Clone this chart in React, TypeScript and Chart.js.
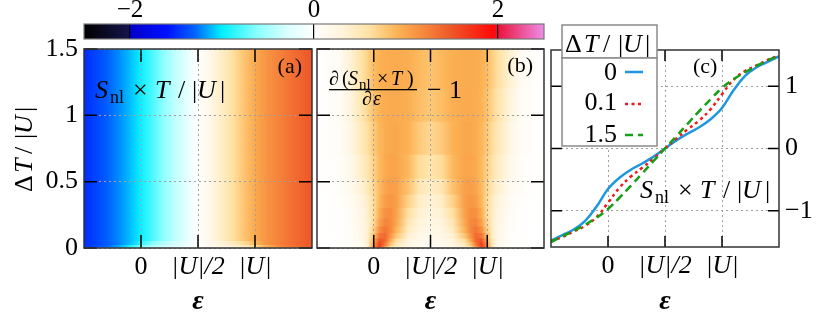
import React, { useEffect, useRef } from "react";
import { Chart, registerables } from "chart.js";

Chart.register(...registerables);

const SERIF = "'Liberation Serif', 'Times New Roman', serif";

// ---------------- data ----------------
// energy grid (units of |U|)
const epsGrid = [-0.5, -0.4, -0.3, -0.2, -0.1, 0, 0.1, 0.2, 0.3, 0.4, 0.5, 0.6, 0.7, 0.8, 0.9, 1.0, 1.1, 1.2, 1.3, 1.4, 1.5];
// S_nl x T / |U| for three temperature differences
const sNl_dT0 = [-1.48, -1.39, -1.3, -1.16, -0.93, -0.65, -0.47, -0.34, -0.24, -0.13, 0, 0.13, 0.24, 0.34, 0.47, 0.65, 0.93, 1.16, 1.3, 1.39, 1.48];
const sNl_dT01 = [-1.49, -1.42, -1.33, -1.24, -1.1, -0.87, -0.63, -0.45, -0.31, -0.16, 0, 0.16, 0.31, 0.45, 0.63, 0.87, 1.1, 1.24, 1.33, 1.42, 1.49];
const sNl_dT15 = [-1.5, -1.41, -1.32, -1.22, -1.11, -0.97, -0.79, -0.6, -0.4, -0.2, 0, 0.2, 0.4, 0.6, 0.79, 0.97, 1.11, 1.22, 1.32, 1.41, 1.5];
const seriesLabels = ["0", "0.1", "1.5"];
const seriesColors = ["#1e97de", "#f01818", "#16a016"];

// panel (a) heat-map rows: ΔT bands and the S_nl T/|U| profile used in each
const aRowBands = [[0, 0.02], [0.02, 0.05], [0.05, 1.5]];
const aRowSeries = [sNl_dT0, sNl_dT01, sNl_dT15];

// panel (b) heat-map: d(S_nl T)/dε - 1
const bEps = [-0.5, -0.3, -0.2, -0.1, -0.05, 0, 0.05, 0.1, 0.15, 0.2, 0.3, 0.4, 0.5, 0.6, 0.7, 0.8, 0.85, 0.9, 0.95, 1.0, 1.05, 1.1, 1.2, 1.3, 1.5];
const bRowBands = [[0, 0.015], [0.015, 0.04], [0.04, 0.07], [0.07, 0.11], [0.11, 0.16], [0.16, 0.22], [0.22, 0.3], [0.3, 0.4], [0.4, 0.52], [0.52, 0.7], [0.7, 0.95], [0.95, 1.2], [1.2, 1.5]];
const bRow0 = [0, 0.01, 0.04, 0.14, 0.38, 1.15, 1.65, 1.1, 0.6, 0.4, 0.2, 0.13, 0.11, 0.13, 0.2, 0.4, 0.6, 1.1, 1.65, 1.15, 0.38, 0.14, 0.04, 0.01, 0];
const bRow1 = [0, 0.01, 0.04, 0.16, 0.4, 1.05, 1.62, 1.28, 0.78, 0.5, 0.24, 0.15, 0.13, 0.15, 0.24, 0.5, 0.78, 1.28, 1.62, 1.05, 0.4, 0.16, 0.04, 0.01, 0];
const bRow2 = [0, 0.01, 0.05, 0.18, 0.4, 0.92, 1.5, 1.4, 0.95, 0.62, 0.29, 0.18, 0.15, 0.18, 0.29, 0.62, 0.95, 1.4, 1.5, 0.92, 0.4, 0.18, 0.05, 0.01, 0];
const bRow3 = [0, 0.02, 0.06, 0.2, 0.39, 0.8, 1.3, 1.38, 1.1, 0.78, 0.36, 0.21, 0.17, 0.21, 0.36, 0.78, 1.1, 1.38, 1.3, 0.8, 0.39, 0.2, 0.06, 0.02, 0];
const bRow4 = [0, 0.02, 0.06, 0.21, 0.38, 0.72, 1.15, 1.3, 1.18, 0.9, 0.45, 0.25, 0.2, 0.25, 0.45, 0.9, 1.18, 1.3, 1.15, 0.72, 0.38, 0.21, 0.06, 0.02, 0];
const bRow5 = [0, 0.02, 0.07, 0.22, 0.38, 0.66, 1.02, 1.22, 1.18, 0.98, 0.53, 0.29, 0.23, 0.29, 0.53, 0.98, 1.18, 1.22, 1.02, 0.66, 0.38, 0.22, 0.07, 0.02, 0];
const bRow6 = [0, 0.03, 0.08, 0.24, 0.4, 0.63, 0.94, 1.14, 1.15, 1.02, 0.62, 0.35, 0.28, 0.35, 0.62, 1.02, 1.15, 1.14, 0.94, 0.63, 0.4, 0.24, 0.08, 0.03, 0];
const bRow7 = [0, 0.04, 0.11, 0.28, 0.43, 0.63, 0.88, 1.06, 1.1, 1.04, 0.72, 0.42, 0.33, 0.42, 0.72, 1.04, 1.1, 1.06, 0.88, 0.63, 0.43, 0.28, 0.11, 0.04, 0];
const bRow8 = [0, 0.05, 0.15, 0.35, 0.5, 0.67, 0.86, 1.0, 1.05, 1.03, 0.82, 0.52, 0.42, 0.52, 0.82, 1.03, 1.05, 1.0, 0.86, 0.67, 0.5, 0.35, 0.15, 0.05, 0];
const bRow9 = [0, 0.05, 0.19, 0.41, 0.56, 0.71, 0.86, 0.97, 1.01, 1.0, 0.88, 0.64, 0.54, 0.64, 0.88, 1.0, 1.01, 0.97, 0.86, 0.71, 0.56, 0.41, 0.19, 0.05, 0];
const bRow10 = [0, 0.07, 0.24, 0.48, 0.62, 0.76, 0.88, 0.95, 0.98, 0.98, 0.92, 0.76, 0.67, 0.76, 0.92, 0.98, 0.98, 0.95, 0.88, 0.76, 0.62, 0.48, 0.24, 0.07, 0];
const bRow11 = [0, 0.09, 0.3, 0.54, 0.68, 0.81, 0.9, 0.95, 0.97, 0.97, 0.94, 0.84, 0.77, 0.84, 0.94, 0.97, 0.97, 0.95, 0.9, 0.81, 0.68, 0.54, 0.3, 0.09, 0];
const bRow12 = [0, 0.1, 0.35, 0.6, 0.72, 0.85, 0.92, 0.95, 0.96, 0.96, 0.94, 0.87, 0.8, 0.87, 0.94, 0.96, 0.96, 0.95, 0.92, 0.85, 0.72, 0.6, 0.35, 0.1, 0];
const bRowValues = [bRow0, bRow1, bRow2, bRow3, bRow4, bRow5, bRow6, bRow7, bRow8, bRow9, bRow10, bRow11, bRow12];

// axes
const xTickValues = [0, 0.5, 1];
const xTickLabels = ["0", "|U|/2", "|U|"];
const dTTickValues = [0, 0.5, 1, 1.5];
const dTTickLabels = ["0", "0.5", "1", "1.5"];
const sTickValues = [-1, 0, 1];
const sTickLabels = ["−1", "0", "1"];
const cbTickValues = [-2, 0, 2];
const cbTickLabels = ["−2", "0", "2"];
const cbRange = [-2.5, 2.5];

// colour map (value -> colour)
const cmapValues = [-2.5, -2.02, -2.0, -1.6, -1.3, -1.0, -0.6, -0.3, 0, 0.3, 0.6, 0.9, 1.2, 1.5, 1.95, 2.0, 2.5];
const cmapColors = ["#000000", "#14144a", "#0000c8", "#0010ff", "#0062ff", "#00f0ff", "#90ffff", "#d8ffff", "#ffffff", "#fff4dc", "#ffe2a4", "#fcb455", "#f6873c", "#ee5528", "#ff0808", "#e8143c", "#f08ce8"];

// ---------------- helpers ----------------
function hexToRgb(h: string) {
  return [parseInt(h.slice(1, 3), 16), parseInt(h.slice(3, 5), 16), parseInt(h.slice(5, 7), 16)];
}
function cmap(v: number): string {
  if (v <= cmapValues[0]) return cmapColors[0];
  for (let i = 1; i < cmapValues.length; i++) {
    if (v <= cmapValues[i]) {
      const t = (v - cmapValues[i - 1]) / (cmapValues[i] - cmapValues[i - 1]);
      const a = hexToRgb(cmapColors[i - 1]);
      const b = hexToRgb(cmapColors[i]);
      const c = a.map((x, k) => Math.round(x + (b[k] - x) * t));
      return `rgb(${c[0]},${c[1]},${c[2]})`;
    }
  }
  return cmapColors[cmapColors.length - 1];
}
function gradient(chart: any, scaleId: string, pos: number[], colors: string[]) {
  const sc = chart.scales[scaleId];
  if (!chart.chartArea || !sc) return colors[0];
  const p0 = sc.getPixelForValue(pos[0]);
  const p1 = sc.getPixelForValue(pos[pos.length - 1]);
  const g = chart.ctx.createLinearGradient(p0, 0, p1, 0);
  pos.forEach((p, i) => {
    const o = (sc.getPixelForValue(p) - p0) / (p1 - p0);
    g.addColorStop(Math.min(1, Math.max(0, o)), colors[i]);
  });
  return g;
}
function labelOf(values: number[], labels: string[], v: any) {
  const i = values.indexOf(Number(v));
  return i >= 0 ? labels[i] : "";
}

type Seg = { t: string; x: number; st?: string; sz: number; dy?: number };
function drawSegs(ctx: CanvasRenderingContext2D, segs: Seg[], x0: number, y0: number) {
  ctx.save();
  ctx.fillStyle = "#000";
  ctx.textAlign = "left";
  ctx.textBaseline = "alphabetic";
  segs.forEach((s) => {
    ctx.font = `${s.st ?? ""} ${s.sz}px ${SERIF}`;
    ctx.fillText(s.t, x0 + s.x, y0 + (s.dy ?? 0));
  });
  ctx.restore();
}
const dTUSegs: Seg[] = [
  { t: "Δ", x: 0, sz: 26 },
  { t: "T", x: 19, st: "italic", sz: 26 },
  { t: "/", x: 38, sz: 26 },
  { t: "|", x: 53, sz: 26 },
  { t: "U", x: 58, st: "italic", sz: 26 },
  { t: "|", x: 80, sz: 26 },
];
const sNlSegs: Seg[] = [
  { t: "S", x: 2, st: "italic", sz: 26 },
  { t: "nl", x: 17, sz: 18, dy: 5 },
  { t: "×", x: 40, sz: 26 },
  { t: "T", x: 62, st: "italic", sz: 26 },
  { t: "/", x: 85, sz: 26 },
  { t: "|", x: 99, sz: 26 },
  { t: "U", x: 104, st: "italic", sz: 26 },
  { t: "|", x: 127, sz: 26 },
];
function drawText(ctx: CanvasRenderingContext2D, t: string, x: number, y: number, font: string, align: CanvasTextAlign) {
  ctx.save();
  ctx.fillStyle = "#000";
  ctx.font = font;
  ctx.textAlign = align;
  ctx.textBaseline = "alphabetic";
  ctx.fillText(t, x, y);
  ctx.restore();
}
function epsTitle(ctx: CanvasRenderingContext2D, chart: any) {
  const a = chart.chartArea;
  drawText(ctx, "ε", (a.left + a.right) / 2, 309, `italic bold 28px ${SERIF}`, "center");
}

function framePlugin(cfg: { xTicks: number[]; yTicks: number[]; tickLen: number; color: string; width: number; extra?: (ctx: CanvasRenderingContext2D, chart: any) => void }) {
  return {
    id: "frameDeco",
    afterDraw(chart: any) {
      const { ctx, chartArea: a } = chart;
      const xs = chart.scales.x;
      const ys = chart.scales.y;
      ctx.save();
      ctx.setLineDash([]);
      ctx.strokeStyle = "#000";
      ctx.lineWidth = 1.5;
      ctx.beginPath();
      cfg.xTicks.forEach((v) => {
        const p = xs.getPixelForValue(v);
        ctx.moveTo(p, a.bottom);
        ctx.lineTo(p, a.bottom - cfg.tickLen);
        ctx.moveTo(p, a.top);
        ctx.lineTo(p, a.top + cfg.tickLen);
      });
      cfg.yTicks.forEach((v) => {
        const p = ys.getPixelForValue(v);
        ctx.moveTo(a.left, p);
        ctx.lineTo(a.left + cfg.tickLen, p);
        ctx.moveTo(a.right, p);
        ctx.lineTo(a.right - cfg.tickLen, p);
      });
      ctx.stroke();
      ctx.strokeStyle = cfg.color;
      ctx.lineWidth = cfg.width;
      ctx.strokeRect(a.left, a.top, a.right - a.left, a.bottom - a.top);
      ctx.restore();
      if (cfg.extra) cfg.extra(ctx, chart);
    },
  };
}

const gridOpts = { color: "#a0a0a0", lineWidth: 1, drawTicks: false, z: 1, offset: false };
const borderOpts = { display: false, dash: [2, 3] };
const tickFont = (c: any) => ({ family: SERIF, size: 26, lineHeight: 1, style: c.tick && c.tick.value !== 0 ? "italic" : "normal" });

function epsAxis(height: number, gridZ: number) {
  return {
    type: "linear",
    position: "bottom",
    min: -0.5,
    max: 1.5,
    offset: false,
    afterFit: (s: any) => { s.height = height; },
    afterBuildTicks: (s: any) => { s.ticks = xTickValues.map((v) => ({ value: v })); },
    ticks: { callback: (v: any) => labelOf(xTickValues, xTickLabels, v), font: tickFont, color: "#000", padding: 6, autoSkip: false, maxRotation: 0 },
    grid: { ...gridOpts, z: gridZ },
    border: borderOpts,
  };
}
function dTAxis(show: boolean, width: number) {
  return {
    type: "linear",
    position: "left",
    min: 0,
    max: 1.5,
    afterFit: (s: any) => { s.width = width; },
    afterBuildTicks: (s: any) => { s.ticks = dTTickValues.map((v) => ({ value: v })); },
    ticks: { display: show, callback: (v: any) => labelOf(dTTickValues, dTTickLabels, v), font: { family: SERIF, size: 26, lineHeight: 1 }, color: "#000", padding: 6, autoSkip: false },
    grid: gridOpts,
    border: borderOpts,
  };
}
const baseOpts = {
  responsive: false,
  animation: false,
  devicePixelRatio: 1,
  events: [],
};

function heatConfig(bands: number[][], eps: number[], rows: number[][], padding: any, yShow: boolean, yWidth: number, extra: any) {
  return {
    type: "bar",
    data: {
      labels: ["row"],
      datasets: bands.map((band, i) => ({
        data: [band],
        backgroundColor: (c: any) => gradient(c.chart, "x", eps, rows[i].map(cmap)),
        borderWidth: 0,
        grouped: false,
        barPercentage: 1,
        categoryPercentage: 1,
        xAxisID: "xc",
        yAxisID: "y",
      })),
    },
    options: {
      ...baseOpts,
      layout: { padding, autoPadding: false },
      plugins: { legend: { display: false }, tooltip: { enabled: false } },
      scales: {
        x: epsAxis(64, 1),
        xc: { type: "category", axis: "x", display: false, offset: true },
        y: dTAxis(yShow, yWidth),
      },
    },
    plugins: [framePlugin({ xTicks: xTickValues, yTicks: dTTickValues, tickLen: 13, color: "#333", width: 1.5, extra })],
  };
}

export default function App() {
  const cbRef = useRef<HTMLCanvasElement>(null);
  const aRef = useRef<HTMLCanvasElement>(null);
  const bRef = useRef<HTMLCanvasElement>(null);
  const cRef = useRef<HTMLCanvasElement>(null);

  useEffect(() => {
    const charts: Chart[] = [];

    // colour bar
    charts.push(
      new Chart(cbRef.current as HTMLCanvasElement, {
        type: "bar",
        data: {
          labels: ["cb"],
          datasets: [
            {
              data: [cbRange],
              backgroundColor: (c: any) => gradient(c.chart, "x", cmapValues, cmapColors),
              borderWidth: 0,
              barPercentage: 1,
              categoryPercentage: 1,
              xAxisID: "x",
              yAxisID: "yc",
            },
          ],
        },
        options: {
          ...baseOpts,
          indexAxis: "y",
          layout: { padding: { left: 84, right: 286, top: 0, bottom: 273 }, autoPadding: false },
          plugins: { legend: { display: false }, tooltip: { enabled: false } },
          scales: {
            x: {
              type: "linear",
              position: "top",
              min: cbRange[0],
              max: cbRange[1],
              offset: false,
              afterFit: (s: any) => { s.height = 24; },
              afterBuildTicks: (s: any) => { s.ticks = cbTickValues.map((v) => ({ value: v })); },
              ticks: { callback: (v: any) => labelOf(cbTickValues, cbTickLabels, v), font: { family: SERIF, size: 25, lineHeight: 1 }, color: "#000", padding: 1, autoSkip: false, maxRotation: 0 },
              grid: { color: "#000", lineWidth: 1.2, drawTicks: false, z: 1, offset: false },
              border: { display: false },
            },
            yc: { type: "category", axis: "y", display: false, offset: true },
          },
        } as any,
        plugins: [framePlugin({ xTicks: [], yTicks: [], tickLen: 0, color: "#777", width: 1.2 })],
      } as any)
    );

    // panel (a)
    charts.push(
      new Chart(
        aRef.current as HTMLCanvasElement,
        heatConfig(aRowBands, epsGrid, aRowSeries, { left: 0, right: 518, top: 49, bottom: 0 }, true, 84, (ctx: CanvasRenderingContext2D, chart: any) => {
          drawSegs(ctx, sNlSegs, 93, 98);
          drawText(ctx, "(a)", 302, 73, `22px ${SERIF}`, "right");
          epsTitle(ctx, chart);
          ctx.save();
          ctx.translate(32, 192);
          ctx.rotate(-Math.PI / 2);
          drawSegs(ctx, dTUSegs, 0, 0);
          ctx.restore();
        }) as any
      )
    );

    // panel (b)
    charts.push(
      new Chart(
        bRef.current as HTMLCanvasElement,
        heatConfig(bRowBands, bEps, bRowValues, { left: 317, right: 286, top: 49, bottom: 0 }, false, 0, (ctx: CanvasRenderingContext2D, chart: any) => {
          drawSegs(ctx, [
            { t: "∂", x: 0, sz: 20 },
            { t: "(", x: 13, sz: 20 },
            { t: "S", x: 19, st: "italic", sz: 20 },
            { t: "nl", x: 30, sz: 15, dy: 4 },
            { t: "×", x: 48, sz: 20 },
            { t: "T", x: 62, st: "italic", sz: 20 },
            { t: ")", x: 78, sz: 20 },
          ], 329, 85);
          ctx.save();
          ctx.fillStyle = "#000";
          ctx.fillRect(329, 89, 88, 1.3);
          ctx.restore();
          drawSegs(ctx, [
            { t: "∂", x: 0, sz: 20 },
            { t: "ε", x: 11, st: "italic", sz: 20 },
          ], 362, 105);
          drawSegs(ctx, [
            { t: "−", x: 0, sz: 26 },
            { t: "1", x: 22, sz: 26 },
          ], 427, 98);
          drawText(ctx, "(b)", 533, 72, `22px ${SERIF}`, "right");
          epsTitle(ctx, chart);
        }) as any
      )
    );

    // panel (c)
    const series = [sNl_dT0, sNl_dT01, sNl_dT15];
    const dashes = [[], [3, 3.5], [8, 5]];
    charts.push(
      new Chart(cRef.current as HTMLCanvasElement, {
        type: "scatter",
        data: {
          datasets: series.map((s, i) => ({
            label: seriesLabels[i],
            data: epsGrid.map((e, k) => ({ x: e, y: s[k] })),
            showLine: true,
            borderColor: seriesColors[i],
            backgroundColor: seriesColors[i],
            borderWidth: 2.5,
            borderDash: dashes[i],
            pointRadius: 0,
            tension: 0.4,
            order: 2 - i,
          })),
        },
        options: {
          ...baseOpts,
          layout: { padding: { left: 551, right: 0, top: 50, bottom: 0 }, autoPadding: false },
          plugins: { legend: { display: false }, tooltip: { enabled: false } },
          scales: {
            x: { ...epsAxis(65, -1) },
            y: {
              type: "linear",
              position: "right",
              min: -1.58,
              max: 1.58,
              afterFit: (s: any) => { s.width = 51; },
              afterBuildTicks: (s: any) => { s.ticks = sTickValues.map((v) => ({ value: v })); },
              ticks: { callback: (v: any) => labelOf(sTickValues, sTickLabels, v), font: { family: SERIF, size: 26, lineHeight: 1 }, color: "#000", padding: 6, autoSkip: false },
              grid: { ...gridOpts, z: -1 },
              border: borderOpts,
            },
          },
        } as any,
        plugins: [
          framePlugin({
            xTicks: xTickValues,
            yTicks: sTickValues,
            tickLen: 11,
            color: "#333",
            width: 1.5,
            extra: (ctx: CanvasRenderingContext2D, chart: any) => {
              drawSegs(ctx, sNlSegs, 638, 198);
              drawText(ctx, "(c)", 693, 73, `22px ${SERIF}`, "left");
              epsTitle(ctx, chart);
              // legend
              ctx.save();
              ctx.fillStyle = "#fff";
              ctx.strokeStyle = "#8a8a8a";
              ctx.lineWidth = 1.5;
              ctx.fillRect(562, 25, 95, 33);
              ctx.strokeRect(562, 25, 95, 33);
              ctx.fillRect(562, 58, 95, 88);
              ctx.strokeRect(562, 58, 95, 88);
              ctx.restore();
              drawSegs(ctx, dTUSegs, 565, 52);
              const textY = [80, 110, 142];
              const lineY = [72, 104, 135];
              chart.data.datasets.forEach((ds: any, i: number) => {
                drawText(ctx, ds.label, 617, textY[i], `26px ${SERIF}`, "right");
                ctx.save();
                ctx.strokeStyle = ds.borderColor;
                ctx.lineWidth = ds.borderWidth;
                ctx.setLineDash(ds.borderDash || []);
                ctx.beginPath();
                ctx.moveTo(625, lineY[i]);
                ctx.lineTo(643, lineY[i]);
                ctx.stroke();
                ctx.restore();
              });
            },
          }),
        ],
      } as any)
    );

    return () => charts.forEach((c) => c.destroy());
  }, []);

  const cs: React.CSSProperties = { position: "absolute", left: 0, top: 0, width: 830, height: 312 };
  return (
    <div style={{ position: "fixed", left: 0, top: 0, width: 830, height: 312, background: "#fff", overflow: "hidden" }}>
      <canvas ref={cbRef} width={830} height={312} style={cs} />
      <canvas ref={aRef} width={830} height={312} style={cs} />
      <canvas ref={bRef} width={830} height={312} style={cs} />
      <canvas ref={cRef} width={830} height={312} style={cs} />
    </div>
  );
}
